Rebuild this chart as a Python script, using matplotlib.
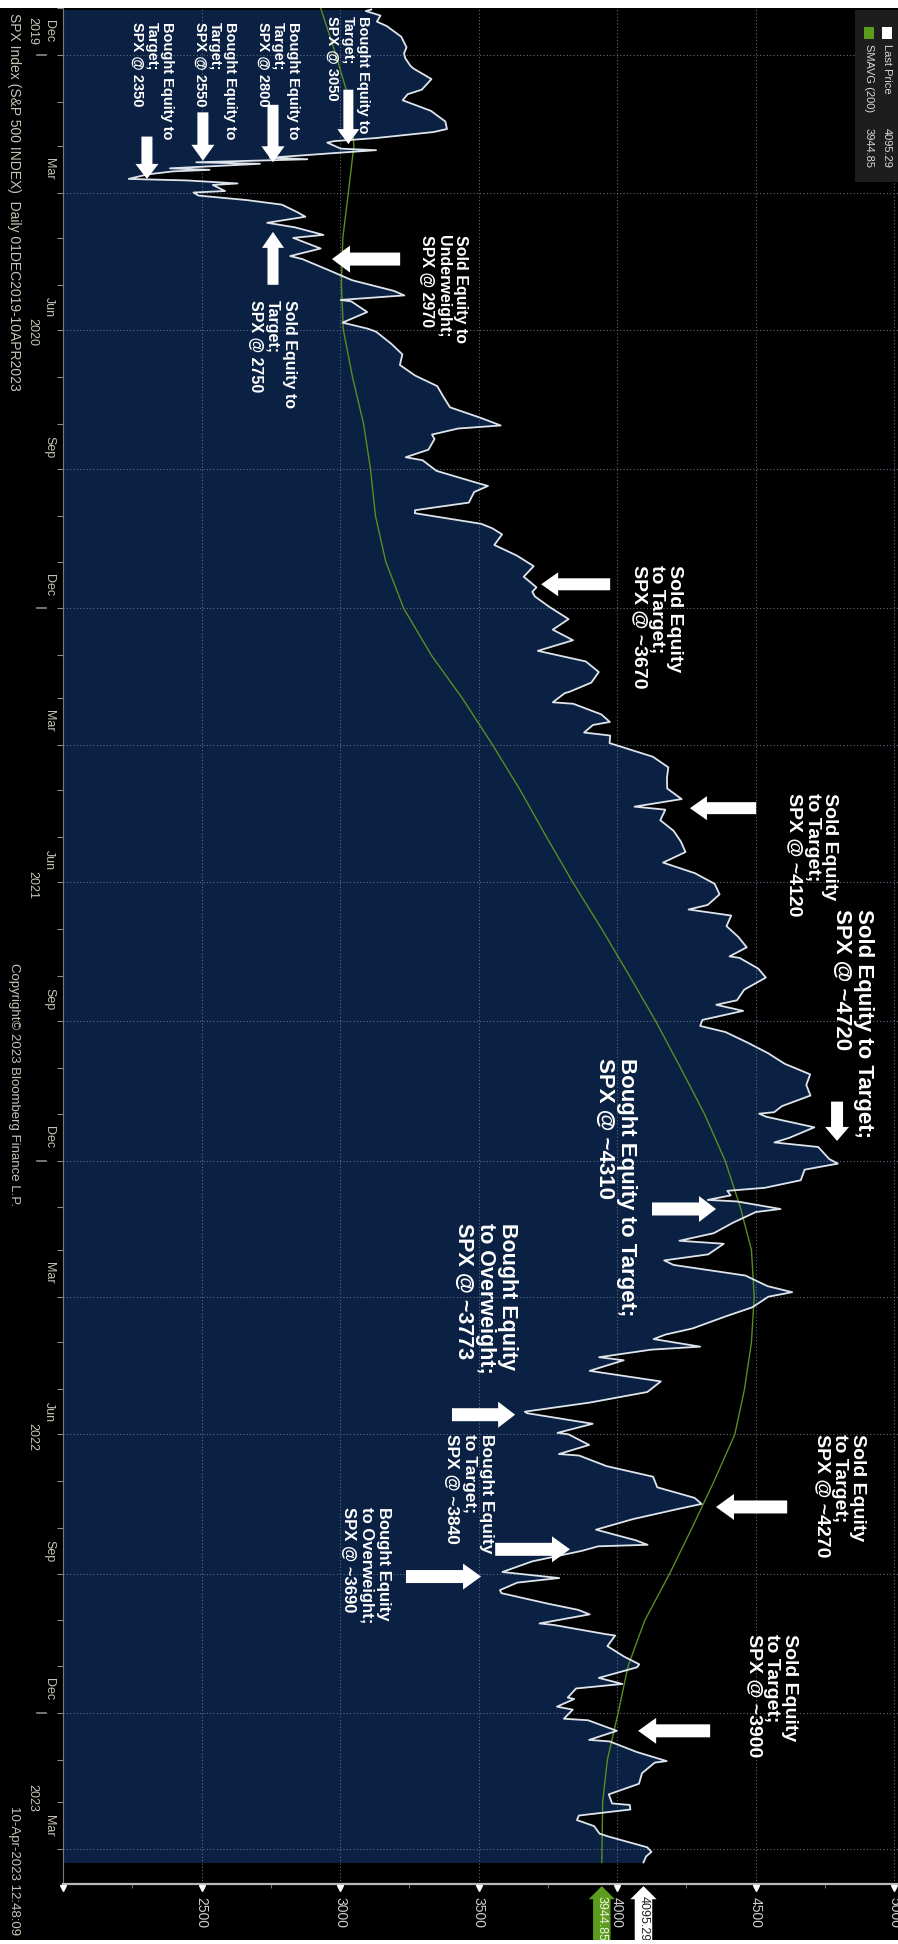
import numpy as np
import pandas as pd
import matplotlib
matplotlib.use('Agg')
import matplotlib.pyplot as plt
from matplotlib import transforms
from matplotlib.patches import Rectangle
from matplotlib.lines import Line2D

################################### Dati ###############################
# SPX, chiusure (circa) - date e valori
price_dates = [
 '2019-12-02','2019-12-03','2019-12-06','2019-12-10','2019-12-13','2019-12-20','2019-12-27','2019-12-31',
 '2020-01-03','2020-01-08','2020-01-10','2020-01-17','2020-01-24','2020-01-27','2020-01-31',
 '2020-02-07','2020-02-14','2020-02-19','2020-02-21','2020-02-25','2020-02-27','2020-02-28',
 '2020-03-03','2020-03-04','2020-03-06','2020-03-09','2020-03-10','2020-03-12','2020-03-13','2020-03-16',
 '2020-03-17','2020-03-18','2020-03-20','2020-03-23','2020-03-24','2020-03-26','2020-03-27','2020-03-31',
 '2020-04-01','2020-04-03','2020-04-06','2020-04-09','2020-04-14','2020-04-17','2020-04-21','2020-04-24','2020-04-29',
 '2020-05-01','2020-05-08','2020-05-13','2020-05-15','2020-05-22','2020-05-29',
 '2020-06-05','2020-06-08','2020-06-11','2020-06-12','2020-06-19','2020-06-26','2020-06-30',
 '2020-07-02','2020-07-10','2020-07-17','2020-07-24','2020-07-31',
 '2020-08-07','2020-08-14','2020-08-21','2020-08-28',
 '2020-09-02','2020-09-04','2020-09-08','2020-09-11','2020-09-18','2020-09-23','2020-09-25',
 '2020-10-02','2020-10-09','2020-10-12','2020-10-16','2020-10-23','2020-10-28','2020-10-30',
 '2020-11-06','2020-11-09','2020-11-13','2020-11-20','2020-11-27',
 '2020-12-04','2020-12-11','2020-12-18','2020-12-21','2020-12-24','2020-12-31',
 '2021-01-08','2021-01-15','2021-01-22','2021-01-27','2021-01-29',
 '2021-02-05','2021-02-12','2021-02-19','2021-02-25','2021-02-26',
 '2021-03-04','2021-03-05','2021-03-12','2021-03-17','2021-03-19','2021-03-24','2021-03-26','2021-03-31',
 '2021-04-09','2021-04-16','2021-04-23','2021-04-30',
 '2021-05-07','2021-05-12','2021-05-14','2021-05-21','2021-05-28',
 '2021-06-04','2021-06-11','2021-06-18','2021-06-25',
 '2021-07-02','2021-07-09','2021-07-16','2021-07-19','2021-07-23','2021-07-30',
 '2021-08-06','2021-08-13','2021-08-19','2021-08-20','2021-08-27',
 '2021-09-02','2021-09-10','2021-09-17','2021-09-20','2021-09-24','2021-09-30',
 '2021-10-04','2021-10-08','2021-10-15','2021-10-22','2021-10-29',
 '2021-11-05','2021-11-12','2021-11-19','2021-11-26','2021-11-30',
 '2021-12-01','2021-12-03','2021-12-10','2021-12-17','2021-12-20','2021-12-23','2021-12-31',
 '2022-01-03','2022-01-07','2022-01-14','2022-01-19','2022-01-21','2022-01-24','2022-01-27','2022-01-28',
 '2022-02-02','2022-02-04','2022-02-11','2022-02-18','2022-02-23','2022-02-25',
 '2022-03-04','2022-03-08','2022-03-11','2022-03-18','2022-03-25','2022-03-29',
 '2022-04-01','2022-04-08','2022-04-14','2022-04-22','2022-04-26','2022-04-29',
 '2022-05-04','2022-05-06','2022-05-11','2022-05-13','2022-05-20','2022-05-27',
 '2022-06-03','2022-06-10','2022-06-16','2022-06-17','2022-06-24','2022-06-30',
 '2022-07-01','2022-07-08','2022-07-14','2022-07-15','2022-07-22','2022-07-29',
 '2022-08-05','2022-08-12','2022-08-16','2022-08-19','2022-08-26',
 '2022-09-02','2022-09-09','2022-09-12','2022-09-13','2022-09-16','2022-09-23','2022-09-30',
 '2022-10-04','2022-10-07','2022-10-12','2022-10-14','2022-10-21','2022-10-25','2022-10-28',
 '2022-11-03','2022-11-04','2022-11-10','2022-11-11','2022-11-18','2022-11-25','2022-11-30',
 '2022-12-02','2022-12-09','2022-12-13','2022-12-16','2022-12-22','2022-12-23','2022-12-28','2022-12-30',
 '2023-01-05','2023-01-06','2023-01-13','2023-01-19','2023-01-20','2023-01-27',
 '2023-02-02','2023-02-03','2023-02-10','2023-02-17','2023-02-24',
 '2023-03-02','2023-03-03','2023-03-06','2023-03-10','2023-03-13','2023-03-17','2023-03-22','2023-03-24','2023-03-31',
 '2023-04-03','2023-04-06','2023-04-10']
price_vals = [
 3113,3093,3146,3133,3169,3221,3240,3231,
 3235,3253,3265,3330,3295,3244,3226,
 3328,3380,3386,3338,3128,2979,2954,
 3003,3130,2972,2747,2882,2481,2711,2386,
 2529,2398,2305,2237,2447,2630,2541,2585,
 2471,2489,2664,2790,2846,2875,2737,2837,2940,
 2831,2930,2820,2864,2955,3044,
 3194,3232,3002,3041,3098,3009,3100,
 3130,3185,3225,3216,3271,
 3351,3373,3397,3508,
 3580,3427,3332,3341,3319,3237,3298,
 3348,3477,3534,3484,3465,3271,3270,
 3509,3550,3585,3557,3638,
 3699,3663,3709,3694,3703,3756,
 3825,3768,3841,3750,3714,
 3887,3934,3907,3829,3811,
 3768,3842,3943,3974,3913,3881,3975,3973,
 4129,4185,4180,4181,
 4233,4063,4174,4156,4204,
 4230,4247,4166,4281,
 4352,4370,4327,4258,4412,4395,
 4437,4468,4406,4442,4509,
 4537,4459,4433,4358,4455,4308,
 4300,4391,4471,4545,4605,
 4697,4683,4698,4595,4567,
 4513,4538,4712,4621,4568,4726,4766,
 4797,4677,4663,4533,4398,4410,4327,4432,
 4590,4501,4419,4349,4225,4385,
 4329,4170,4204,4463,4543,4632,
 4546,4488,4392,4272,4175,4132,
 4300,4123,3935,4024,3901,4158,
 4109,3901,3667,3675,3912,3785,
 3825,3899,3790,3863,3962,4130,
 4145,4280,4305,4228,4058,
 3924,4067,4110,3932,3873,3693,3586,
 3791,3640,3577,3583,3752,3859,3901,
 3720,3771,3956,3993,3965,4026,4080,
 4072,3934,4019,3852,3822,3845,3783,3840,
 3808,3895,3999,3899,3973,4071,
 4179,4136,4090,4079,3970,
 3982,4046,4048,3862,3855,3917,3937,3971,4109,
 4124,4105,4095.29]

# media mobile 200 giorni (SMAVG 200)
sma_dates = ['2019-12-01','2020-01-01','2020-02-01','2020-03-01','2020-04-01','2020-05-01','2020-06-01',
             '2020-07-01','2020-08-01','2020-09-01','2020-10-01','2020-11-01','2020-12-01',
             '2021-01-01','2021-02-01','2021-03-01','2021-04-01','2021-05-01','2021-06-01',
             '2021-07-01','2021-08-01','2021-09-01','2021-10-01','2021-11-01','2021-12-01',
             '2022-01-01','2022-02-01','2022-03-01','2022-04-01','2022-05-01','2022-06-01',
             '2022-07-01','2022-08-01','2022-09-01','2022-10-01','2022-11-01','2022-12-01',
             '2023-01-01','2023-02-01','2023-03-01','2023-04-10']
sma_vals = [2930, 2985, 3035, 3050, 3030, 3010, 3005,
            3012, 3045, 3085, 3110, 3128, 3165,
            3230, 3330, 3440, 3550, 3650, 3745,
            3840, 3945, 4045, 4140, 4230, 4315,
            4390, 4445, 4485, 4495, 4485, 4460,
            4425, 4350, 4270, 4190, 4100, 4040,
            4004, 3965, 3948, 3944.85]

last_price = 4095.29
last_sma = 3944.85

price_ticks = [2000, 2500, 3000, 3500, 4000, 4500, 5000]
price_labels = ['', '2500', '3000', '3500', '4000', '4500', '5000']
month_ticks = ['2019-12', '2020-03', '2020-06', '2020-09', '2020-12', '2021-03', '2021-06', '2021-09',
               '2021-12', '2022-03', '2022-06', '2022-09', '2022-12', '2023-03']
years = ['2019', '2020', '2021', '2022', '2023']

################################### Utilita' ###############################################
t0 = pd.Timestamp('2019-12-01')
def day(s):
    return (pd.Timestamp(s) - t0) / pd.Timedelta(days=1)

W, H = 898, 1944
def fx(px):
    return px / W
def fy(py):
    return 1 - py / H

BOLD = 'Liberation Sans'
NARROW = ['Liberation Sans Narrow', 'Liberation Sans']
GRAYTXT = '#c9c3b6'

pdays = np.array([day(d) for d in price_dates])
sdays = np.array([day(d) for d in sma_dates])
pvals = np.array(price_vals)
svals = np.array(sma_vals)

################################### Figura #################################################
fig = plt.figure(figsize=(W / 100, H / 100), dpi=100, facecolor='black')
ax = fig.add_axes([fx(63), fy(1884), fx(898 - 63), (1884 - 8) / H])
ax.set_facecolor('black')

ax.fill_betweenx(pdays, 2000, pvals, color='#0b2143', lw=0, zorder=1)
ax.plot(pvals, pdays, color='#dde4ec', lw=1.3, zorder=3)
ax.plot(svals, sdays, color='#5a8c22', lw=1.0, zorder=2.8)

ax.set_xlim(2000, 5014)
ax.set_ylim(day('2019-12-01') + (1884 - 5) / 1.515, 2.0)

# griglia
qdays = [day(q) for q in pd.date_range('2020-01-01', '2023-04-01', freq='QS')]
for q in qdays:
    ax.axhline(q, color='#5d6d82', lw=0.8, ls=(0, (1, 2)), zorder=2)
for p in price_ticks[1:]:
    ax.axvline(p, color='#5d6d82', lw=0.8, ls=(0, (1, 2)), zorder=2)

# assi
for s in ['top', 'right']:
    ax.spines[s].set_visible(False)
ax.spines['left'].set_color('#7a7a7a')
ax.spines['left'].set_linewidth(0.8)
ax.spines['bottom'].set_color('#b8b8b8')
ax.spines['bottom'].set_linewidth(1.6)

ax.set_xticks(price_ticks)
ax.set_xticklabels(price_labels, rotation=-90, color='#cfcfcf', fontsize=10, family=NARROW)
ax.set_xticks(np.arange(2250, 5000, 500), minor=True)
ax.tick_params(axis='x', which='major', length=0, pad=9)
ax.tick_params(axis='x', which='minor', length=3, color='#8a8a8a', direction='out')

mdays = [day(m) for m in pd.date_range('2019-12-01', '2023-04-01', freq='MS')]
ax.set_yticks(mdays)
ax.set_yticklabels([])
ax.tick_params(axis='y', length=4, color='#8a8a8a', direction='out')

# triangolini sui tick principali
bt = transforms.blended_transform_factory(ax.transData, ax.transAxes)
ax.plot(price_ticks, [-0.0022] * len(price_ticks), ls='none', marker='v', ms=5,
        color='white', transform=bt, clip_on=False, zorder=5)

# etichette ultimo valore
ax.text(last_sma, -0.0062, f'{last_sma:.2f}', transform=bt, rotation=-90, ha='center', va='top',
        fontsize=9, color='#eef5e6', family=NARROW,
        bbox=dict(boxstyle='larrow,pad=0.22', fc='#5c9c1c', ec='none'), zorder=6, clip_on=False)
ax.text(last_price, -0.0062, f'{last_price:.2f}', transform=bt, rotation=-90, ha='center', va='top',
        fontsize=9, color='#222222', family=NARROW,
        bbox=dict(boxstyle='larrow,pad=0.22', fc='white', ec='none'), zorder=6, clip_on=False)

# etichette mesi / anni a sinistra
lt = transforms.blended_transform_factory(fig.transFigure, ax.transData)
for m in month_ticks:
    ts = pd.Timestamp(m + '-01')
    mid = day(ts) + ts.days_in_month / 2
    fig.text(fx(49), mid, ts.strftime('%b'), transform=lt, rotation=-90, ha='center', va='center',
             fontsize=9, color=GRAYTXT, family=NARROW)
ylo, yhi = 0.0, day('2019-12-01') + (1884 - 5) / 1.515
for y in years:
    a = max(day(y + '-01-01'), ylo)
    b = min(day(str(int(y) + 1) + '-01-01'), yhi)
    fig.text(fx(32), (a + b) / 2, y, transform=lt, rotation=-90, ha='center', va='center',
             fontsize=9, color=GRAYTXT, family=NARROW)
    if int(y) > 2019:
        fig.add_artist(Line2D([fx(37), fx(46)], [day(y + '-01-01')] * 2, transform=lt,
                              color='#8a8a8a', lw=1.2))

fig.text(fx(14), fy(13), 'SPX Index (S&P 500 INDEX)  Daily 01DEC2019-10APR2023', rotation=-90,
         ha='center', va='top', fontsize=10, color=GRAYTXT, family=NARROW)
fig.text(fx(14), fy(963), 'Copyright\u00a9 2023 Bloomberg Finance L.P.', rotation=-90,
         ha='center', va='top', fontsize=9.5, color=GRAYTXT, family=NARROW)
fig.text(fx(14), fy(1806), '10-Apr-2023 12:48:09', rotation=-90,
         ha='center', va='top', fontsize=9.5, color=GRAYTXT, family=NARROW)

# legenda
fig.add_artist(Rectangle((fx(855), fy(182)), fx(43), 172 / H, transform=fig.transFigure,
                         fc='#1d1d1d', ec='none'))
fig.add_artist(Rectangle((fx(882), fy(39)), fx(10), 12 / H, transform=fig.transFigure,
                         fc='white', ec='none'))
fig.add_artist(Rectangle((fx(864), fy(39)), fx(10), 12 / H, transform=fig.transFigure,
                         fc='#5c9c1c', ec='none'))
fig.text(fx(887), fy(44), 'Last Price', rotation=-90, ha='center', va='top',
         fontsize=8, color='#d8d8d8', family=NARROW)
fig.text(fx(887), fy(128), f'{last_price:.2f}', rotation=-90, ha='center', va='top',
         fontsize=8, color='#d8d8d8', family=NARROW)
fig.text(fx(869), fy(44), 'SMAVG (200)', rotation=-90, ha='center', va='top',
         fontsize=8, color='#d8d8d8', family=NARROW)
fig.text(fx(869), fy(128), f'{last_sma:.2f}', rotation=-90, ha='center', va='top',
         fontsize=8, color='#d8d8d8', family=NARROW)

################################### Annotazioni ############################################
def note(txt, p, t, size, ls=1.15):
    ax.text(p, day(t), txt, rotation=-90, rotation_mode='anchor', ha='left', va='top',
            color='white', fontsize=size, fontweight='bold', family=BOLD, linespacing=ls,
            zorder=7, clip_on=False)

def arrow(p0, t0_, p1, t1, tail=12, head=24, hlen=17):
    k = 72 / 100.0
    ax.annotate('', xy=(p1, day(t1)), xytext=(p0, day(t0_)),
                arrowprops=dict(arrowstyle=f'simple,tail_width={tail*k},head_width={head*k},head_length={hlen*k}',
                                fc='white', ec='none', lw=0, shrinkA=0, shrinkB=0, mutation_scale=1),
                zorder=6)

note('Bought Equity to\nTarget;\nSPX @ 3050', 3108, '2019-12-06', 10.5, 1.1)
note('Bought Equity to\nTarget;\nSPX @ 2800', 2856, '2019-12-10', 10.5, 1.1)
note('Bought Equity to\nTarget;\nSPX @ 2550', 2628, '2019-12-10', 10.5, 1.1)
note('Bought Equity to\nTarget;\nSPX @ 2350', 2401, '2019-12-10', 10.5, 1.1)
note('Sold Equity to\nUnderweight;\nSPX @ 2970', 3462, '2020-04-29', 11.5)
note('Sold Equity to\nTarget;\nSPX @ 2750', 2845, '2020-06-11', 11.5)
note('Sold Equity\nto Target;\nSPX @ ~3670', 4238, '2020-12-03', 14, 1.05)
note('Sold Equity\nto Target;\nSPX @ ~4120', 4798, '2021-05-03', 14, 1.05)
note('Sold Equity to Target;\nSPX @ ~4720', 4928, '2021-07-19', 16, 1.05)
note('Bought Equity to Target;\nSPX @ ~4310', 4072, '2021-10-25', 16, 1.05)
note('Bought Equity\nto Overweight;\nSPX @ ~3773', 3643, '2022-02-11', 15.5, 1.05)
note('Bought Equity\nto Target;\nSPX @ ~3840', 3556, '2022-07-01', 12.5, 1.2)
note('Bought Equity\nto Overweight;\nSPX @ ~3690', 3184, '2022-08-18', 12, 1.2)
note('Sold Equity\nto Target;\nSPX @ ~4270', 4899, '2022-07-01', 14, 1.05)
note('Sold Equity\nto Target;\nSPX @ ~3900', 4653, '2022-11-10', 14, 1.05)

arrow(3030, '2020-01-24', 3030, '2020-02-29', 10, 22, 15)
arrow(2758, '2020-02-03', 2758, '2020-03-12', 11, 23, 16)
arrow(2505, '2020-02-08', 2505, '2020-03-11', 11, 23, 16)
arrow(2303, '2020-02-24', 2303, '2020-03-23', 11, 23, 15)
arrow(3217, '2020-05-15', 2971, '2020-05-15', 13, 27, 18)
arrow(2758, '2020-06-01', 2758, '2020-04-27', 11, 22, 16)
arrow(3975, '2020-12-16', 3726, '2020-12-16', 12, 24, 17)
arrow(4502, '2021-05-13', 4263, '2021-05-13', 12, 24, 17)
arrow(4794, '2021-11-23', 4794, '2021-12-19', 12, 24, 14)
arrow(4126, '2022-02-02', 4357, '2022-02-02', 13, 26, 17)
arrow(3404, '2022-06-18', 3632, '2022-06-18', 13, 26, 17)
arrow(3560, '2022-09-15', 3830, '2022-09-15', 13, 26, 18)
arrow(3238, '2022-10-03', 3509, '2022-10-03', 13, 26, 18)
arrow(4614, '2022-08-18', 4357, '2022-08-18', 13, 26, 18)
arrow(4336, '2023-01-13', 4076, '2023-01-13', 13, 26, 18)

# bordi bianchi sopra e sotto
fig.add_artist(Rectangle((0, fy(8)), 1, 8 / H, transform=fig.transFigure, fc='white', ec='none', zorder=10))
fig.add_artist(Rectangle((0, 0), 1, 4 / H, transform=fig.transFigure, fc='white', ec='none', zorder=10))

plt.savefig('out.png', dpi=100, facecolor='black')
